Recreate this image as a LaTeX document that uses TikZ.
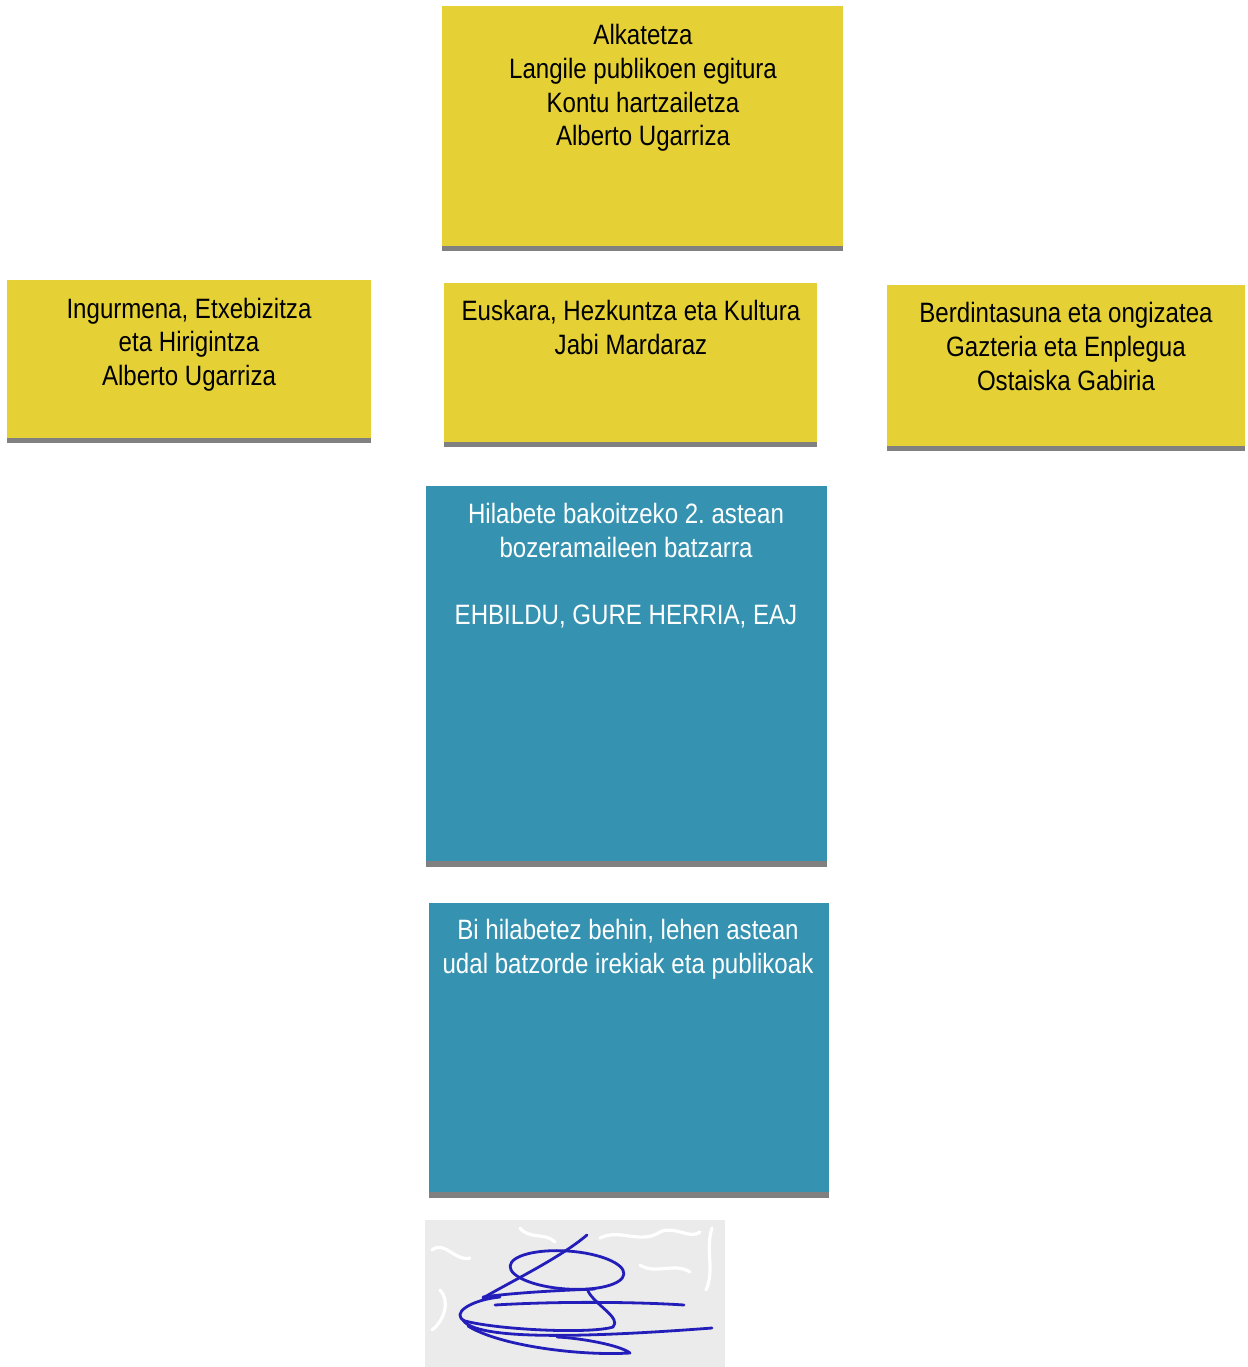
\documentclass[tikz,border=0pt]{standalone}
\usepackage{fontspec}
\setmainfont{Liberation Sans}[FakeStretch=0.86]
\frenchspacing
\definecolor{yel}{RGB}{229,209,54}
\definecolor{boxblue}{RGB}{53,147,177}
\definecolor{shadowgray}{RGB}{128,128,128}
\definecolor{sigblue}{RGB}{35,30,185}
\definecolor{sigbg}{RGB}{235,235,235}
\begin{document}
\begin{tikzpicture}[x=0.5pt,y=-0.5pt,
  panel/.style={inner sep=0pt,outer sep=0pt,anchor=north west,draw=none},
  ypanel/.style={panel,fill=yel},
  bpanel/.style={panel,fill=boxblue},
  txt/.style={inner sep=0pt,align=center,font={\fontsize{14}{16.85}\selectfont}},
  ytxt/.style={txt,text=black},
  btxt/.style={txt,text=white},
  shade/.style={fill=shadowgray},
  sig/.style={draw=sigblue,line width=1.4pt,line cap=round,line join=round},
  bgwave/.style={draw=white,line width=1.6pt,line cap=round}]
\useasboundingbox (0,0) rectangle (1248,1367);
\fill[white] (0,0) rectangle (1248,1367);

% yellow panels
\node[ypanel,minimum width=200.5pt,minimum height=120pt] (top) at (442,6) {};
\fill[shade] (top.south west) rectangle ([yshift=-2.25pt]top.south east);
\node[ypanel,minimum width=182pt,minimum height=79pt] (left) at (7,280) {};
\fill[shade] (left.south west) rectangle ([yshift=-2.5pt]left.south east);
\node[ypanel,minimum width=186.5pt,minimum height=79.5pt] (mid) at (444,283) {};
\fill[shade] (mid.south west) rectangle ([yshift=-2.25pt]mid.south east);
\node[ypanel,minimum width=179pt,minimum height=80.5pt] (right) at (887,285) {};
\fill[shade] (right.south west) rectangle ([yshift=-2.5pt]right.south east);

% blue panels
\node[bpanel,minimum width=200.5pt,minimum height=187.5pt] (blueA) at (426,486) {};
\fill[shade] (blueA.south west) rectangle ([yshift=-2.75pt]blueA.south east);
\node[bpanel,minimum width=200pt,minimum height=144.5pt] (blueB) at (429,903) {};
\fill[shade] (blueB.south west) rectangle ([yshift=-2.75pt]blueB.south east);

% texts
\node[ytxt] (topT) at (643,88) {Alkatetza\\Langile publikoen egitura\\Kontu hartzailetza\\Alberto Ugarriza};
\node[ytxt] (leftT) at (189,344.5) {Ingurmena, Etxebizitza\\eta Hirigintza\\Alberto Ugarriza};
\node[ytxt] (midT) at (631,327.5) {Euskara, Hezkuntza eta Kultura\\Jabi Mardaraz};
\node[ytxt] (rightT) at (1066,346.5) {Berdintasuna eta ongizatea\\Gazteria eta Enplegua\\Ostaiska Gabiria};
\node[btxt] (blueAT) at (626,566) {Hilabete bakoitzeko 2. astean\\bozeramaileen batzarra\\[16.85pt]EHBILDU, GURE HERRIA, EAJ};
\node[btxt] (blueBT) at (628,949) {Bi hilabetez behin, lehen astean\\udal batzorde irekiak eta publikoak};

% signature
\fill[sigbg] (425,1220) rectangle (725,1367);
\draw[bgwave] (432,1250) .. controls (445,1240) and (455,1262) .. (470,1258);
\draw[bgwave] (440,1290) .. controls (450,1300) and (445,1320) .. (432,1330);
\draw[bgwave] (600,1238) .. controls (620,1228) and (640,1245) .. (660,1232) .. controls (675,1225) and (690,1240) .. (700,1232);
\draw[bgwave] (712,1228) .. controls (705,1250) and (715,1270) .. (706,1290);
\draw[bgwave] (640,1265) .. controls (655,1275) and (675,1262) .. (690,1272);
\draw[bgwave] (520,1228) .. controls (530,1240) and (545,1232) .. (555,1242);
\draw[sig,rotate around={-4:(567,1270)}] (567,1270) ellipse (57 and 19);
\draw[sig] (587,1235) .. controls (560,1258) and (510,1282) .. (483,1298);
\draw[sig] (483,1297) .. controls (520,1292) and (570,1290) .. (595,1289);
\draw[sig] (495,1305) .. controls (560,1301) and (640,1302) .. (684,1305);
\draw[sig] (588,1291) .. controls (595,1305) and (622,1318) .. (613,1327)
  .. controls (590,1334) and (500,1330) .. (465,1321)
  .. controls (450,1314) and (470,1300) .. (500,1297);
\draw[sig] (463,1320) .. controls (475,1340) and (580,1338) .. (712,1328);
\draw[sig] (468,1326) .. controls (500,1346) and (580,1356) .. (630,1353)
  .. controls (620,1345) and (580,1338) .. (557,1337);
\end{tikzpicture}
\end{document}
